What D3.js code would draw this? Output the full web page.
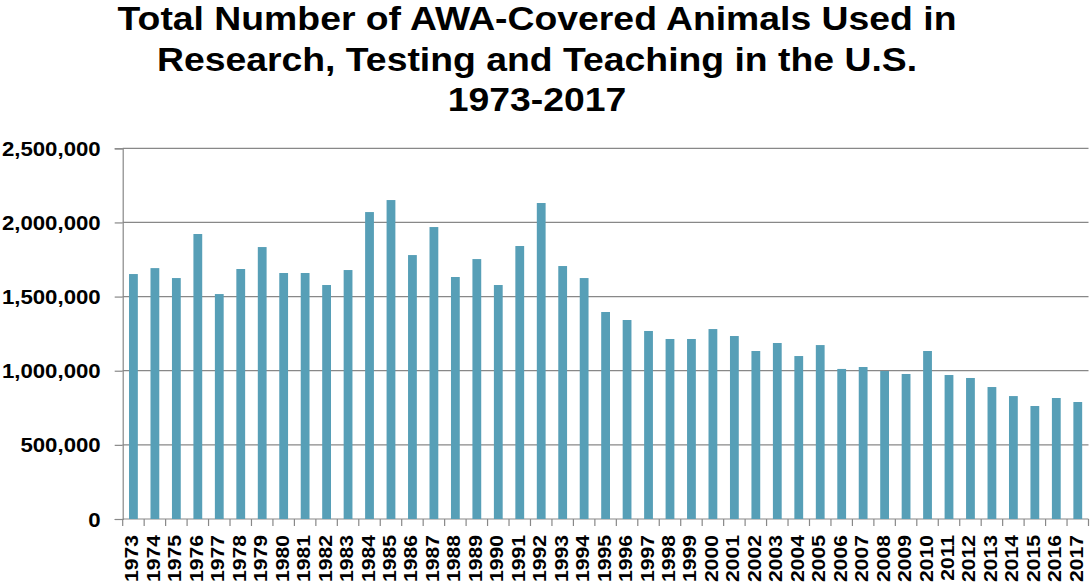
<!DOCTYPE html>
<html>
<head>
<meta charset="utf-8">
<script src="https://cdn.jsdelivr.net/npm/d3@7"></script>
<style>
  body { margin: 0; background: #fff; }
  text { font-family: "Liberation Sans", Arial, sans-serif; font-weight: bold; fill: #000; }
</style>
</head>
<body>
<div id="chart"></div>
<script>
//chart data
let years = ['1973','1974','1975','1976','1977','1978','1979','1980','1981','1982',
             '1983','1984','1985','1986','1987','1988','1989','1990','1991','1992',
             '1993','1994','1995','1996','1997','1998','1999','2000','2001','2002',
             '2003','2004','2005','2006','2007','2008','2009','2010','2011','2012',
             '2013','2014','2015','2016','2017'];
let animals = [1652000,1692000,1625000,1922000,1517000,1686000,1834000,1659000,1659000,1578000,
               1679000,2070000,2151000,1780000,1969000,1632000,1753000,1578000,1841000,2131000,
               1706000,1625000,1396000,1342000,1268000,1214000,1214000,1281000,1234000,1133000,
               1187000,1099000,1173000,1012000,1025000,998000,978000,1133000,971000,951000,
               890000,829000,762000,816000,789000];
let yTicks = [0,500000,1000000,1500000,2000000,2500000];
let titleLines = ['Total Number of AWA-Covered Animals Used in',
                  'Research, Testing and Teaching in the U.S.',
                  '1973-2017'];

//svg size and plot area
let svgWidth = 1090;
let svgHeight = 585;
let chartMargin = {top: 148.3, right: 1.5, bottom: 66, left: 122.7};
let chartWidth = svgWidth - chartMargin.left - chartMargin.right;
let chartHeight = svgHeight - chartMargin.top - chartMargin.bottom;
let gridColor = '#888888';
let barColor = '#579fb7';

let svg = d3.select('#chart')
            .append('svg')
            .attr('width', svgWidth)
            .attr('height', svgHeight);

//title, three centered lines (slightly stretched like the original)
svg.selectAll('.title')
   .data(titleLines)
   .enter()
   .append('text')
   .attr('class', 'title')
   .attr('transform', (d, i) => `translate(537, ${[30, 70.5, 110.5][i]}) scale(1.115,1)`)
   .attr('text-anchor', 'middle')
   .style('font-size', '33.5px')
   .text(d => d);

let chartGroup = svg.append('g')
                    .attr('transform', `translate(${chartMargin.left}, ${chartMargin.top})`);

//scales
let xScale = d3.scaleBand()
               .domain(years)
               .range([0, chartWidth])
               .paddingInner(0.59)
               .paddingOuter(0.295);

let yScale = d3.scaleLinear()
               .domain([0, 2500000])
               .range([chartHeight, 0]);

//horizontal gridlines
chartGroup.append('g')
          .selectAll('line')
          .data(yTicks)
          .enter()
          .append('line')
          .attr('x1', 0)
          .attr('x2', chartWidth)
          .attr('y1', d => yScale(d))
          .attr('y2', d => yScale(d))
          .attr('stroke', gridColor)
          .attr('stroke-width', 1.2);

//bars
chartGroup.selectAll('rect')
          .data(animals)
          .enter()
          .append('rect')
          .attr('x', (d, i) => xScale(years[i]))
          .attr('width', xScale.bandwidth())
          .attr('y', d => yScale(d))
          .attr('height', d => chartHeight - yScale(d))
          .attr('fill', barColor);

//y axis
let yAxis = d3.axisLeft(yScale)
              .tickValues(yTicks)
              .tickSize(8)
              .tickFormat(d3.format(','));
let yAxisGroup = chartGroup.append('g').call(yAxis);
yAxisGroup.select('.domain').attr('stroke', gridColor).attr('stroke-width', 1.2);
yAxisGroup.selectAll('.tick line').attr('stroke', gridColor).attr('stroke-width', 1.2);
yAxisGroup.selectAll('.tick text')
          .attr('x', 0)
          .attr('dy', '0.36em')
          .attr('transform', 'translate(-22,0) scale(1.14,1)')
          .style('font-size', '19.5px')
          .style('font-family', null);

//x axis: tick marks sit between the bars
let xAxis = d3.axisBottom(xScale).tickSize(0);
let xAxisGroup = chartGroup.append('g')
                           .attr('transform', `translate(0, ${chartHeight})`)
                           .call(xAxis);
xAxisGroup.select('.domain').remove();
xAxisGroup.selectAll('.tick text')
          .attr('x', 0)
          .attr('y', 0)
          .attr('dy', 0)
          .attr('transform', 'translate(5, 16) rotate(-90) scale(1.11,1)')
          .style('text-anchor', 'end')
          .style('font-size', '19px')
          .style('font-family', null);

let gap = (xScale.step() - xScale.bandwidth()) / 2;
let boundaries = years.map(d => xScale(d) - gap).concat([chartWidth]);
xAxisGroup.append('g')
          .selectAll('line')
          .data(boundaries)
          .enter()
          .append('line')
          .attr('x1', d => d)
          .attr('x2', d => d)
          .attr('y1', 0)
          .attr('y2', 7)
          .attr('stroke', gridColor)
          .attr('stroke-width', 1.2);
</script>
</body>
</html>
